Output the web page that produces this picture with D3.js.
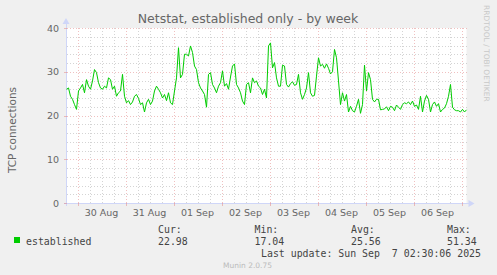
<!DOCTYPE html>
<html>
<head>
<meta charset="utf-8">
<script src="https://cdn.jsdelivr.net/npm/d3@7"></script>
<style>
  html, body { margin: 0; padding: 0; background: #f0f0f0; }
  svg { display: block; }
  text { font-family: "DejaVu Sans", sans-serif; fill: #666; }
  .mono { font-family: "DejaVu Sans Mono", monospace; }
</style>
</head>
<body>
<div id="chart"></div>
<script>
// Munin netstat "established" week graph, one sample per hour
const seriesName = "established";
const startTime = new Date(2025, 7, 29, 18, 30);
const stepHours = 1;
const established = [
  26.0, 26.3, 24.4, 23.7, 22.5, 21.4, 25.6, 26.3, 27.1, 25.2,
  28.2, 26.7, 26.0, 27.9, 30.5, 29.8, 27.5, 26.3, 26.0, 26.7,
  26.3, 28.6, 28.2, 26.0, 26.7, 24.4, 25.2, 25.6, 29.4, 24.4,
  22.9, 23.4, 22.5, 23.1, 24.4, 24.8, 23.9, 22.5, 22.9, 20.8,
  22.9, 23.7, 22.5, 23.3, 25.6, 26.7, 26.0, 25.2, 24.0, 24.8,
  23.4, 25.2,
  22.9, 22.5, 25.6, 28.6, 35.5, 28.6, 29.4, 34.0, 34.0, 33.6,
  35.9, 34.4, 31.3, 30.5, 27.5, 26.3, 25.6, 24.8, 21.9, 29.4,
  29.8, 27.1, 26.3, 25.2, 26.7, 27.5, 30.2, 26.7, 27.3, 26.0,
  28.8, 31.3, 31.8, 27.1, 26.3, 25.2, 23.3, 22.5, 27.1, 27.5,
  25.2, 28.6, 27.5, 27.9, 26.7, 26.3, 24.8, 26.0, 24.0, 35.9,
  36.6,
  30.9, 32.1, 28.6, 26.7, 26.7, 31.5, 31.3, 27.1, 26.5, 27.3,
  27.7, 26.9, 27.1, 29.4, 25.2, 23.7, 24.8, 26.3, 29.8, 25.2,
  24.4, 24.6, 29.0, 33.2, 31.3, 31.7, 30.8, 31.8, 30.8, 29.5,
  30.0, 35.1, 33.2, 27.9, 22.5, 25.2, 23.3, 24.8, 20.8, 22.1,
  21.1, 20.8, 22.1, 23.7, 20.5, 22.5, 31.5, 25.6, 29.8, 28.2,
  23.7,
  23.1, 23.7, 23.7, 21.3, 21.4, 21.5, 22.0, 21.1, 22.1, 21.9,
  21.1, 22.4, 21.9, 21.4, 22.5, 22.9, 22.7, 23.1, 22.5, 23.3,
  22.1, 22.4, 21.4, 24.4, 20.8, 23.3, 24.6, 23.7, 20.8, 22.5,
  23.1, 22.1, 22.7, 20.8, 21.4, 21.7, 22.7, 24.4, 27.1, 21.9,
  21.3, 21.1, 21.1, 20.8, 21.4, 20.8, 21.3
];
const yTicks = [0, 10, 20, 30, 40];
const legendHeads = ["Cur:", "Min:", "Avg:", "Max:"];
const legendValues = ["22.98", "17.04", "25.56", "51.34"];
const lastUpdate = "Last update: Sun Sep  7 02:30:06 2025";

const width = 497, height = 275;
const pLeft = 66.5, pRight = 466.5, pTop = 28, pBottom = 203;
const minorCol = "rgba(160,160,160,0.45)", majorCol = "rgba(225,130,130,0.5)";

const svg = d3.select("#chart").append("svg")
  .attr("width", width).attr("height", height);

svg.append("rect").attr("width", width).attr("height", height).attr("fill", "#f0f0f0");
svg.append("rect").attr("x", pLeft).attr("y", pTop)
  .attr("width", pRight - pLeft).attr("height", pBottom - pTop).attr("fill", "#fff");

const data = established.map((v, i) => ({
  t: d3.timeHour.offset(startTime, i * stepHours), v
}));
const endTime = data[data.length - 1].t;

const x = d3.scaleTime().domain([startTime, endTime]).range([pLeft, pRight]);
const y = d3.scaleLinear().domain([0, 40]).range([pBottom, pTop]);

// grid
const grid = svg.append("g").attr("shape-rendering", "crispEdges").attr("stroke-dasharray", "1,2");
const minorY = d3.range(0, 40.01, 2).filter(d => d % 10 !== 0);
grid.selectAll(".hmin").data(minorY).join("line")
  .attr("x1", pLeft).attr("x2", pRight)
  .attr("y1", d => Math.round(y(d)) + 0.5).attr("y2", d => Math.round(y(d)) + 0.5)
  .attr("stroke", minorCol);
const sixHours = d3.timeHour.every(6).range(startTime, endTime).filter(d => d.getHours() !== 0);
grid.selectAll(".vmin").data(sixHours).join("line")
  .attr("x1", d => Math.round(x(d)) + 0.5).attr("x2", d => Math.round(x(d)) + 0.5)
  .attr("y1", pTop).attr("y2", pBottom)
  .attr("stroke", minorCol);
grid.selectAll(".hmaj").data(yTicks.slice(1)).join("line")
  .attr("x1", pLeft).attr("x2", pRight)
  .attr("y1", d => Math.round(y(d)) + 0.5).attr("y2", d => Math.round(y(d)) + 0.5)
  .attr("stroke", majorCol);
const days = d3.timeDay.range(startTime, endTime);
grid.selectAll(".vmaj").data(days).join("line")
  .attr("x1", d => Math.round(x(d)) + 0.5).attr("x2", d => Math.round(x(d)) + 0.5)
  .attr("y1", pTop).attr("y2", pBottom)
  .attr("stroke", majorCol);

// axes (munin style light blue with arrows)
const axisCol = "#cfd6f8";
const ax = svg.append("g").attr("shape-rendering", "crispEdges");
ax.append("line").attr("x1", pLeft - 0.5).attr("x2", pLeft - 0.5).attr("y1", pBottom + 3).attr("y2", pTop - 6)
  .attr("stroke", axisCol);
ax.append("line").attr("x1", pLeft - 3).attr("x2", pRight + 3).attr("y1", pBottom + 0.5).attr("y2", pBottom + 0.5)
  .attr("stroke", axisCol);
svg.append("path").attr("d", `M${pLeft - 4},${pTop - 4} L${pLeft - 0.5},${pTop - 10} L${pLeft + 3},${pTop - 4} Z`).attr("fill", axisCol);
svg.append("path").attr("d", `M${pRight + 2},${pBottom - 3} L${pRight + 8},${pBottom + 0.5} L${pRight + 2},${pBottom + 4} Z`).attr("fill", axisCol);

// tick marks
ax.selectAll(".ty").data(yTicks).join("line")
  .attr("x1", pLeft - 3).attr("x2", pLeft)
  .attr("y1", d => Math.round(y(d)) + 0.5).attr("y2", d => Math.round(y(d)) + 0.5)
  .attr("stroke", majorCol);
ax.selectAll(".tx").data(days).join("line")
  .attr("x1", d => Math.round(x(d)) + 0.5).attr("x2", d => Math.round(x(d)) + 0.5)
  .attr("y1", pBottom).attr("y2", pBottom + 3)
  .attr("stroke", majorCol);

// tick labels
svg.selectAll(".yl").data(yTicks).join("text")
  .attr("x", 59).attr("y", d => y(d) + 3.5)
  .attr("text-anchor", "end").attr("font-size", "9.5px")
  .text(d => d);
const fmt = d3.timeFormat("%d %b");
svg.selectAll(".xl").data(days.filter(d => d3.timeHour.offset(d, 12) < endTime)).join("text")
  .attr("x", d => x(d3.timeHour.offset(d, 12))).attr("y", 216)
  .attr("text-anchor", "middle").attr("font-size", "9.5px")
  .text(d => fmt(d));

// data line
svg.append("path").datum(data)
  .attr("fill", "none").attr("stroke", "#00cc00").attr("stroke-width", 1)
  .attr("d", d3.line().x(d => x(d.t)).y(d => y(d.v)));

// title, axis title, watermark
svg.append("text").attr("x", 248).attr("y", 23).attr("text-anchor", "middle")
  .attr("font-size", "12.5px").text("Netstat, established only - by week");
svg.append("text").attr("transform", "translate(16,130) rotate(-90)")
  .attr("text-anchor", "middle").attr("font-size", "10.5px").text("TCP connections");
svg.append("text").attr("transform", "translate(484,5) rotate(90)")
  .attr("font-size", "7.5px").style("fill", "#c8c8c8").text("RRDTOOL / TOBI OETIKER");

// legend
const legX = [158, 254.5, 351, 447];
svg.append("rect").attr("x", 14).attr("y", 237).attr("width", 6).attr("height", 6).attr("fill", "#00cc00");
svg.append("text").attr("class", "mono").attr("x", 26).attr("y", 245)
  .attr("font-size", "9.9px").style("fill", "#444").text(seriesName);
svg.selectAll(".lh").data(legendHeads).join("text").attr("class", "mono")
  .attr("x", (d, i) => legX[i]).attr("y", 233).attr("font-size", "9.9px").style("fill", "#444")
  .text(d => d);
svg.selectAll(".lv").data(legendValues).join("text").attr("class", "mono")
  .attr("x", (d, i) => legX[i]).attr("y", 245).attr("font-size", "9.9px").style("fill", "#444")
  .text(d => d);
svg.append("text").attr("class", "mono").attr("x", 261).attr("y", 257)
  .attr("font-size", "9.9px").attr("xml:space", "preserve").style("white-space", "pre").style("fill", "#444")
  .text(lastUpdate);
svg.append("text").attr("x", 247.5).attr("y", 268).attr("text-anchor", "middle")
  .attr("font-size", "7.5px").style("fill", "#bbb").text("Munin 2.0.75");
</script>
</body>
</html>
